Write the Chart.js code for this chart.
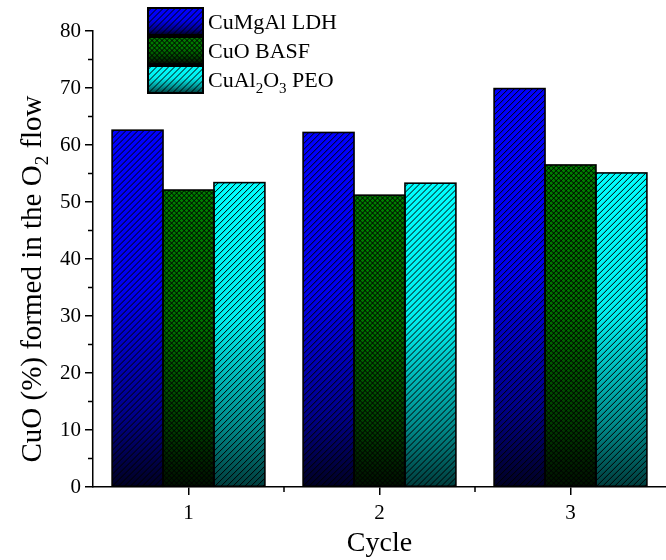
<!DOCTYPE html>
<html>
<head>
<meta charset="utf-8">
<script src="https://cdn.jsdelivr.net/npm/chart.js@4.4.1/dist/chart.umd.min.js"></script>
<style>
    html, body { margin: 0; padding: 0; background: #fff; }
    #wrapper { width: 666px; height: 560px; overflow: hidden; }
</style>
</head>
<body>
<div id="wrapper"><canvas id="Scheme" width="666" height="560"></canvas></div>
<script>
let cycles = ['1', '2', '3'],
    cuMgAl = [62.6, 62.2, 69.9],
    cuoBasf = [52.1, 51.2, 56.5],
    cuAlPeo = [53.4, 53.3, 55.1],
    seriesNames = ['CuMgAl LDH', 'CuO BASF', 'CuAl2O3 PEO'],
    // gradient stops from bar top (0) to bar base (1)
    gradStops = [
        [[0, '#0000ff'], [0.45, '#0000ee'], [0.8, '#000088'], [1, '#000022']],
        [[0, '#008000'], [0.45, '#007400'], [0.8, '#003e00'], [1, '#001000']],
        [[0, '#00ffff'], [0.45, '#00eeee'], [0.8, '#008a8a'], [1, '#003c3c']]
    ],
    hatches = ['diag', 'cross', 'diag'],
    serif = "'Liberation Serif', 'Times New Roman', serif";

function makeGradient(ctx, i, y0, y1) {
    let g = ctx.createLinearGradient(0, y0, 0, y1);
    gradStops[i].forEach(function (s) { g.addColorStop(s[0], s[1]); });
    return g;
}

function barGradient(i) {
    return function (c) {
        let chart = c.chart;
        if (!chart.chartArea || c.type !== 'data') return gradStops[i][0][1];
        let y = chart.scales.y;
        return makeGradient(chart.ctx, i, y.getPixelForValue(c.raw), y.getPixelForValue(0));
    };
}

function hatch(ctx, x, y, w, h, kind) {
    let s = kind === 'cross' ? 5 : 6,
        x0 = Math.round(x) + 0.5, y0 = Math.round(y);
    ctx.save();
    ctx.beginPath();
    ctx.rect(x, y, w, h);
    ctx.clip();
    ctx.strokeStyle = '#000';
    ctx.lineWidth = 1;
    ctx.beginPath();
    for (let k = -Math.ceil(h / s) * s - s; k < w + h; k += s) {
        ctx.moveTo(x0 + k, y0 + h);
        ctx.lineTo(x0 + k + h, y0);
        if (kind === 'cross') {
            ctx.moveTo(x0 + k, y0);
            ctx.lineTo(x0 + k + h, y0 + h);
        }
    }
    ctx.stroke();
    ctx.restore();
}

// hatch overlay on bars + bar outlines
const hatchPlugin = {
    id: 'hatch',
    afterDatasetsDraw(chart) {
        let ctx = chart.ctx;
        chart.data.datasets.forEach(function (ds, i) {
            chart.getDatasetMeta(i).data.forEach(function (el) {
                let p = el.getProps(['x', 'y', 'base', 'width'], true),
                    x = p.x - p.width / 2;
                hatch(ctx, x, p.y, p.width, p.base - p.y, hatches[i]);
                ctx.save();
                ctx.strokeStyle = '#000';
                ctx.lineWidth = 1.6;
                ctx.strokeRect(x, p.y, p.width, p.base - p.y);
                ctx.restore();
            });
        });
    }
};

// minor ticks, y title with subscript, legend
const extras = {
    id: 'extras',
    afterDraw(chart) {
        let ctx = chart.ctx, ca = chart.chartArea, ys = chart.scales.y, xs = chart.scales.x;
        ctx.save();
        ctx.strokeStyle = '#000';
        ctx.lineWidth = 1.5;
        ctx.beginPath();
        for (let v = 5; v < 80; v += 10) {
            let py = ys.getPixelForValue(v);
            ctx.moveTo(ca.left - 5, py);
            ctx.lineTo(ca.left, py);
        }
        for (let i = 0; i < cycles.length - 1; i++) {
            let px = (xs.getPixelForValue(i) + xs.getPixelForValue(i + 1)) / 2;
            ctx.moveTo(px, ca.bottom);
            ctx.lineTo(px, ca.bottom + 5);
        }
        ctx.stroke();

        // y axis title
        let big = '29px ' + serif, small = '19px ' + serif,
            t1 = 'CuO (%) formed in the O', t2 = '2', t3 = ' flow';
        ctx.font = big;
        let w1 = ctx.measureText(t1).width, w3 = ctx.measureText(t3).width;
        ctx.font = small;
        let w2 = ctx.measureText(t2).width;
        let total = w1 + w2 + w3;
        ctx.translate(41, 279);
        ctx.rotate(-Math.PI / 2);
        ctx.fillStyle = '#000';
        ctx.textBaseline = 'alphabetic';
        ctx.font = big;
        ctx.fillText(t1, -total / 2, 0);
        ctx.font = small;
        ctx.fillText(t2, -total / 2 + w1, 7);
        ctx.font = big;
        ctx.fillText(t3, -total / 2 + w1 + w2, 0);
        ctx.restore();

        // legend
        let boxTops = [8, 37, 66];
        seriesNames.forEach(function (name, i) {
            let bx = 148, by = boxTops[i], bw = 55, bh = 27;
            ctx.save();
            ctx.fillStyle = makeGradient(ctx, i, by, by + bh);
            ctx.fillRect(bx, by, bw, bh);
            hatch(ctx, bx, by, bw, bh, hatches[i]);
            ctx.strokeStyle = '#000';
            ctx.lineWidth = 2;
            ctx.strokeRect(bx, by, bw, bh);
            ctx.fillStyle = '#000';
            ctx.textBaseline = 'alphabetic';
            let base = by + 21, tx = 208;
            if (i === 2) {
                let parts = [['CuAl', 0, 22], ['2', 6, 15], ['O', 0, 22], ['3', 6, 15], [' PEO', 0, 22]];
                parts.forEach(function (pt) {
                    ctx.font = pt[2] + 'px ' + serif;
                    ctx.fillText(pt[0], tx, base + pt[1]);
                    tx += ctx.measureText(pt[0]).width;
                });
            } else {
                ctx.font = '22px ' + serif;
                ctx.fillText(name, tx, base);
            }
            ctx.restore();
        });
    }
};

const ctx = document.getElementById('Scheme').getContext('2d');
const chart = new Chart(ctx, {
    type: 'bar',
    data: {
        labels: cycles,
        datasets: [cuMgAl, cuoBasf, cuAlPeo].map(function (d, i) {
            return {
                label: seriesNames[i],
                data: d,
                backgroundColor: barGradient(i),
                borderWidth: 0,
                barPercentage: 1,
                categoryPercentage: 0.8
            };
        })
    },
    options: {
        responsive: false,
        animation: false,
        devicePixelRatio: 1,
        layout: { padding: { top: 31, left: 0, right: -6, bottom: 0 } },
        plugins: { legend: { display: false }, tooltip: { enabled: false } },
        scales: {
            x: {
                offset: true,
                grid: { offset: false, drawOnChartArea: false, tickLength: 8, color: '#000', lineWidth: 1.5 },
                border: { color: '#000', width: 1.5 },
                ticks: { color: '#000', padding: 6, font: { family: serif, size: 21 } },
                title: { display: true, text: 'Cycle', color: '#000', font: { family: serif, size: 28 }, padding: { top: 2, bottom: 0 } },
                afterFit: function (s) { s.height = 73; }
            },
            y: {
                min: 0,
                max: 80,
                ticks: { stepSize: 10, color: '#000', padding: 4, font: { family: serif, size: 21 } },
                grid: { drawOnChartArea: false, tickLength: 8, color: '#000', lineWidth: 1.5 },
                border: { color: '#000', width: 1.5 },
                afterFit: function (s) { s.width = 93; }
            }
        }
    },
    plugins: [hatchPlugin, extras]
});
</script>
</body>
</html>
